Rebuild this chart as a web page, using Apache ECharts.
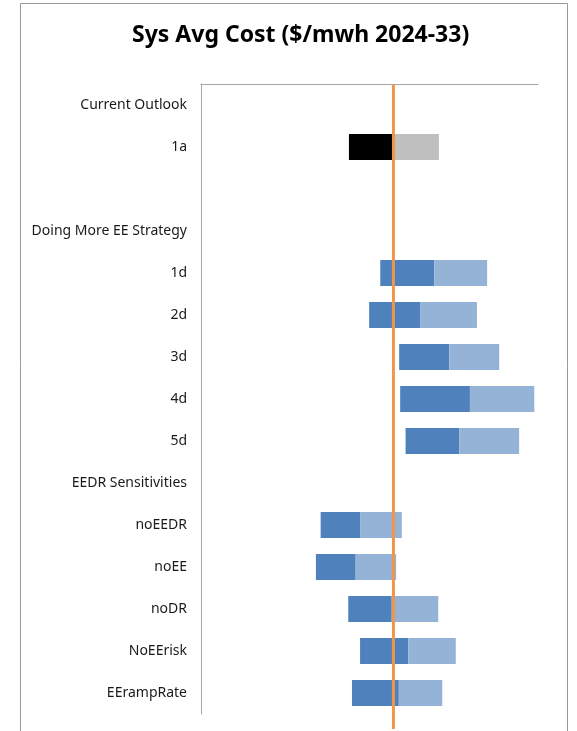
<!DOCTYPE html>
<html>
<head>
<meta charset="utf-8">
<script src="https://cdn.jsdelivr.net/npm/echarts@6/dist/echarts.min.js"></script>
<style>html,body{margin:0;padding:0;background:#fff;}#c{width:577px;height:731px;}</style>
</head>
<body>
<div id="c"></div>
<script>
const categories = ['Current Outlook','1a','','Doing More EE Strategy','1d','2d','3d','4d','5d','EEDR Sensitivities','noEEDR','noEE','noDR','NoEErisk','EErampRate'];
const lowValues  = [null, 43.9, null, null, 53.2, 49.9, 58.8, 59.1, 60.7, null, 35.5, 34.1, 43.7, 47.2, 44.8];
const midValues  = [null, 56.7, null, null, 69.2, 65.0, 73.7, 79.8, 76.6, null, 47.2, 45.9, 56.6, 61.5, 58.7];
const highValues = [null, 70.6, null, null, 84.9, 81.9, 88.5, 98.9, 94.4, null, 59.6, 57.9, 70.4, 75.6, 71.6];
const referenceValue = 57.1;
const axisMin = 0, axisMax = 100;

const darkColors  = categories.map(c => c === '1a' ? '#000000' : '#4F81BD');
const lightColors = categories.map(c => c === '1a' ? '#BFBFBF' : '#95B3D7');

const baseData = lowValues.map(v => v);
const darkData = lowValues.map((v, i) => v == null ? null : {value: +(midValues[i] - v).toFixed(2), itemStyle: {color: darkColors[i]}});
const lightData = midValues.map((v, i) => v == null ? null : {value: +(highValues[i] - v).toFixed(2), itemStyle: {color: lightColors[i]}});

const chart = echarts.init(document.getElementById('c'), null, {renderer: 'canvas'});
const font = 'Noto Sans';
chart.setOption({
  animation: false,
  backgroundColor: '#ffffff',
  title: {
    text: 'Sys Avg Cost ($/mwh 2024-33)',
    left: 127, top: 19,
    textStyle: {fontFamily: font, fontSize: 23, fontWeight: 'bold', color: '#000'}
  },
  graphic: [{
    type: 'rect', shape: {x: 20.5, y: 3.5, width: 547, height: 740},
    style: {fill: 'none', stroke: '#9a9a9a', lineWidth: 1}, silent: true, z: -10
  }],
  grid: [
    {left: 201, right: 39, top: 84, height: 630},
    {left: 201, right: 39, top: 84, bottom: 2}
  ],
  xAxis: [
    {type: 'value', gridIndex: 0, min: axisMin, max: axisMax, position: 'top',
     axisLine: {show: true, lineStyle: {color: '#A6A6A6', width: 1}},
     axisTick: {show: false}, axisLabel: {show: false}, splitLine: {show: false}},
    {type: 'value', gridIndex: 1, min: axisMin, max: axisMax, show: false}
  ],
  yAxis: [
    {type: 'category', gridIndex: 0, data: categories, inverse: true,
     axisLine: {show: true, lineStyle: {color: '#A6A6A6', width: 1}},
     axisTick: {show: false},
     axisLabel: {fontFamily: font, fontSize: 14, color: '#1a1a1a', margin: 14, interval: 0, padding: [2, 0, 0, 0]},
     splitLine: {show: false}},
    {type: 'value', gridIndex: 1, min: 0, max: 1, show: false}
  ],
  series: [
    {type: 'bar', stack: 'r', xAxisIndex: 0, yAxisIndex: 0, data: baseData,
     itemStyle: {color: 'rgba(0,0,0,0)'}, barWidth: 26, silent: true},
    {type: 'bar', stack: 'r', xAxisIndex: 0, yAxisIndex: 0, data: darkData, barWidth: 26},
    {type: 'bar', stack: 'r', xAxisIndex: 0, yAxisIndex: 0, data: lightData, barWidth: 26},
    {type: 'line', xAxisIndex: 1, yAxisIndex: 1, symbol: 'none', z: 10,
     data: [[referenceValue, 0], [referenceValue, 1]],
     lineStyle: {color: '#F0964A', width: 3}}
  ]
});
</script>
</body>
</html>
